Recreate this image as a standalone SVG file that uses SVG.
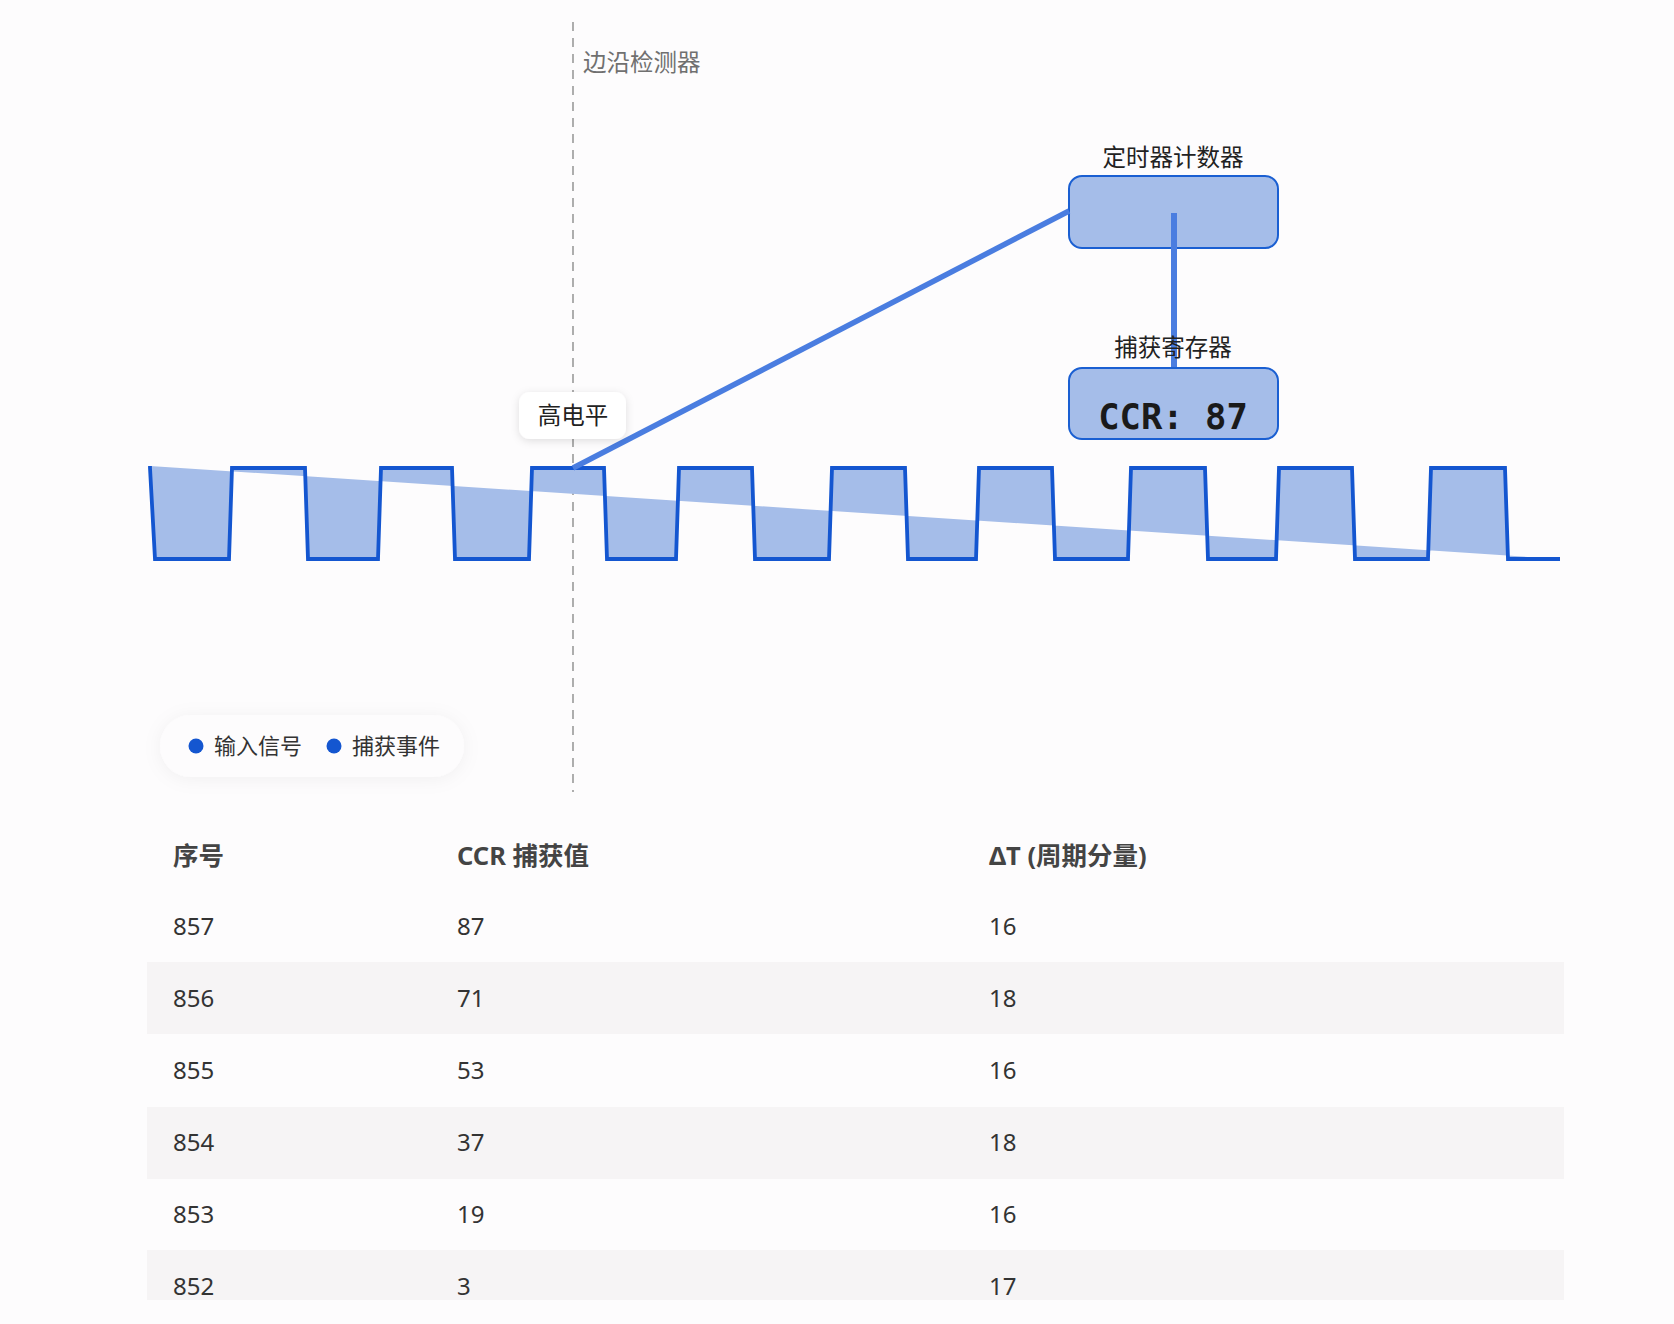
<svg xmlns="http://www.w3.org/2000/svg" width="1674" height="1324" viewBox="0 0 1674 1324">
<defs>
<style>
.cjk{font-family:"Noto Sans","Noto Sans CJK SC",sans-serif;}
.lbl{font-size:23.5px;fill:#222;text-anchor:middle;}
.hdr{font-size:25.5px;font-weight:bold;fill:#444;}
.cell{font-size:24px;fill:#333;}
.band{fill:#f6f4f5;}
.box{fill:#a5bde9;stroke:#1a5fd2;stroke-width:2;}
.conn{stroke:#4a7de0;stroke-linecap:butt;fill:none;}
</style>
<filter id="sh" x="-30%" y="-30%" width="160%" height="160%">
<feDropShadow dx="0" dy="2" stdDeviation="4" flood-color="#000" flood-opacity="0.12"/>
</filter>
<filter id="sh2" x="-20%" y="-50%" width="140%" height="200%">
<feDropShadow dx="0" dy="2" stdDeviation="9" flood-color="#000" flood-opacity="0.05"/>
</filter>
</defs>
<rect x="0" y="0" width="1674" height="1324" fill="#fdfcfd"/>

<g id="edge-detector">
<line x1="573" y1="22" x2="573" y2="792" stroke="#9a9a9a" stroke-width="1.6" stroke-dasharray="9 7"/>
<text class="cjk" x="583" y="71" font-size="23.5" fill="#707070">边沿检测器</text>
</g>

<g id="waveform">
<path d="M150,466 L150,468 L155,559 L229,559 L232,468 L305,468 L308,559 L378,559 L381,468 L452,468 L455,559 L529,559 L532,468 L604,468 L607,559 L676,559 L679,468 L752,468 L755,559 L829,559 L832,468 L905,468 L908,559 L976,559 L979,468 L1052,468 L1055,559 L1128,559 L1131,468 L1205,468 L1208,559 L1276,559 L1279,468 L1352,468 L1355,559 L1428,559 L1431,468 L1505,468 L1508,559 L1560,559" fill="#a5bde9" stroke="#1456d0" stroke-width="3.8" stroke-linejoin="miter"/>
</g>

<g id="timer-counter">
<text class="cjk lbl" x="1173" y="166">定时器计数器</text>
<rect class="box" x="1069" y="176" width="209" height="72" rx="13"/>
</g>

<g id="connectors">
<line class="conn" x1="573" y1="468" x2="1069" y2="211" stroke-width="5.5"/>
<line class="conn" x1="1174" y1="213" x2="1174" y2="369" stroke-width="6"/>
</g>

<g id="capture-register">
<text class="cjk lbl" x="1173" y="356">捕获寄存器</text>
<rect class="box" x="1069" y="368" width="209" height="71" rx="13"/>
<text x="1173" y="429" font-family="'DejaVu Sans Mono','Liberation Mono',monospace" font-weight="bold" font-size="35.5" fill="#1a1a1a" text-anchor="middle">CCR: 87</text>
</g>

<g id="high-level-label">
<rect x="519" y="392" width="107" height="47" rx="11" fill="#ffffff" filter="url(#sh)"/>
<text class="cjk" x="573" y="424" font-size="23.5" fill="#222" text-anchor="middle">高电平</text>
</g>

<g id="legend">
<rect x="160" y="715" width="304" height="62" rx="31" fill="#fdfcfd" filter="url(#sh2)"/>
<circle cx="196" cy="746" r="7.5" fill="#1456d0"/>
<text class="cjk" x="214" y="754" font-size="22" fill="#333">输入信号</text>
<circle cx="334" cy="746" r="7.5" fill="#1456d0"/>
<text class="cjk" x="352" y="754" font-size="22" fill="#333">捕获事件</text>
</g>

<g id="table">
<rect class="band" x="147" y="962" width="1417" height="72"/>
<rect class="band" x="147" y="1107" width="1417" height="72"/>
<rect class="band" x="147" y="1250" width="1417" height="50"/>
<g class="cjk">
<text class="hdr" x="173" y="865">序号</text>
<text class="hdr" x="457" y="865">CCR 捕获值</text>
<text class="hdr" x="989" y="865">ΔT (周期分量)</text>
<text class="cell" x="173" y="935">857</text><text class="cell" x="457" y="935">87</text><text class="cell" x="989" y="935">16</text>
<text class="cell" x="173" y="1007">856</text><text class="cell" x="457" y="1007">71</text><text class="cell" x="989" y="1007">18</text>
<text class="cell" x="173" y="1079">855</text><text class="cell" x="457" y="1079">53</text><text class="cell" x="989" y="1079">16</text>
<text class="cell" x="173" y="1151">854</text><text class="cell" x="457" y="1151">37</text><text class="cell" x="989" y="1151">18</text>
<text class="cell" x="173" y="1223">853</text><text class="cell" x="457" y="1223">19</text><text class="cell" x="989" y="1223">16</text>
<text class="cell" x="173" y="1295">852</text><text class="cell" x="457" y="1295">3</text><text class="cell" x="989" y="1295">17</text>
</g>
</g>
</svg>
